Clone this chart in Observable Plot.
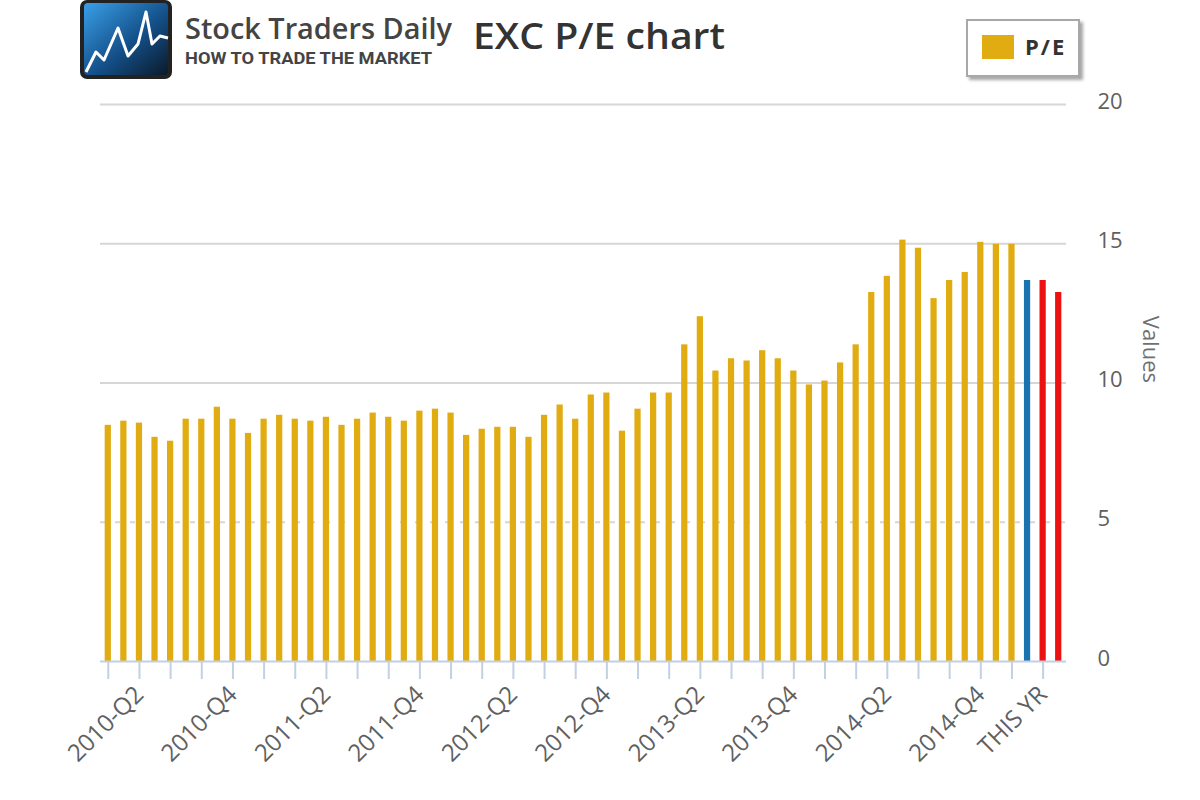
<!DOCTYPE html>
<html>
<head>
<meta charset="utf-8">
<script src="https://cdn.jsdelivr.net/npm/d3@7"></script>
<script src="https://cdn.jsdelivr.net/npm/@observablehq/plot@0.6"></script>
<style>
  html, body { margin: 0; padding: 0; background: #fff; }
  #wrap { position: relative; width: 1200px; height: 800px; overflow: hidden; font-family: "Open Sans", "DejaVu Sans", sans-serif; }
  #chart { position: absolute; left: 0; top: 0; }
  #header { position: absolute; left: 0; top: 0; }
  #legend { position: absolute; left: 966px; top: 19px; width: 114px; height: 58px; background: #fff;
            border: 2px solid #a8a8a8; box-shadow: 3px 3px 3px rgba(0,0,0,0.35); box-sizing: border-box; }
  #legend .sw { position: absolute; left: 14px; top: 14px; width: 32px; height: 24px; background: #e0ac12; }
  #legend .lb { position: absolute; left: 57px; top: 10px; font: bold 22px "Open Sans", "DejaVu Sans", sans-serif; color: #333; letter-spacing: 2px; }
</style>
</head>
<body>
<div id="wrap">
  <div id="chart"></div>
  <svg id="header" width="1200" height="100" xmlns="http://www.w3.org/2000/svg">
    <defs>
      <linearGradient id="lg" x1="0" y1="0" x2="1" y2="1">
        <stop offset="0" stop-color="#3aa0e8"/>
        <stop offset="0.55" stop-color="#14508a"/>
        <stop offset="1" stop-color="#0a1a2a"/>
      </linearGradient>
    </defs>
    <rect x="80" y="0" width="92" height="79" rx="7" fill="#222"/>
    <rect x="84" y="3" width="84" height="72" rx="4" fill="url(#lg)"/>
    <polyline points="86,72 96,52 104,60 118,28 128,56 138,44 146,12 152,44 160,36 168,38"
              fill="none" stroke="#fff" stroke-width="3" stroke-linejoin="round"/>
    <text x="185" y="39" font-family="Open Sans, Roboto, sans-serif" font-weight="600" font-size="29"
          fill="#444" textLength="267" lengthAdjust="spacingAndGlyphs">Stock Traders Daily</text>
    <text x="185" y="64" font-family="Roboto, Open Sans, sans-serif" font-weight="bold" font-size="17"
          fill="#444" textLength="247" lengthAdjust="spacingAndGlyphs">HOW TO TRADE THE MARKET</text>
    <text x="473" y="49" font-family="Open Sans, DejaVu Sans, sans-serif" font-weight="600" font-size="36" fill="#333"
          textLength="252" lengthAdjust="spacingAndGlyphs">EXC P/E chart</text>
  </svg>
  <div id="legend"><div class="sw"></div><div class="lb">P/E</div></div>
</div>
<script>
// Monthly P/E history (gold bars)
const peHistory = [
  8.48, 8.63, 8.56, 8.05, 7.91, 8.70, 8.70, 9.13, 8.70, 8.19,
  8.70, 8.84, 8.70, 8.63, 8.77, 8.48, 8.70, 8.92, 8.77, 8.63,
  8.99, 9.06, 8.92, 8.12, 8.34, 8.41, 8.41, 8.05, 8.84, 9.21,
  8.70, 9.57, 9.64, 8.27, 9.06, 9.64, 9.64, 11.37, 12.38, 10.43,
  10.87, 10.79, 11.16, 10.87, 10.43, 9.93, 10.07, 10.72, 11.37, 13.25,
  13.83, 15.13, 14.84, 13.03, 13.68, 13.97, 15.05, 14.98, 14.98
];
// Current (blue) and forward (red) values
const peThisYear = [13.68];
const peForward = [13.68, 13.25];

// Axis labels and the category index each one sits on
const tickLabels = ["2010-Q2","2010-Q4","2011-Q2","2011-Q4","2012-Q2","2012-Q4","2013-Q2","2013-Q4","2014-Q2","2014-Q4","THIS YR"];
const tickLabelAt = [2, 8, 14, 20, 26, 32, 38, 44, 50, 56, 60];
const yTicks = [0, 5, 10, 15, 20];
const gridSolid = [10, 15, 20];
const gridDashed = [5];

const colorHist = "#e0ac12", colorNow = "#1a73b0", colorFwd = "#ee1111";

const data = [
  ...peHistory.map(v => ({v, c: colorHist})),
  ...peThisYear.map(v => ({v, c: colorNow})),
  ...peForward.map(v => ({v, c: colorFwd}))
].map((d, i) => ({...d, i}));

const idx = data.map(d => d.i);
const tickMarks = idx.filter(i => i % 2 === 0);
const labelMap = new Map(tickLabelAt.map((p, k) => [p, tickLabels[k]]));

const chart = Plot.plot({
  width: 1200,
  height: 800,
  marginLeft: 100,
  marginRight: 134,
  marginTop: 104,
  marginBottom: 139,
  style: { fontFamily: "'Open Sans', 'DejaVu Sans', sans-serif", background: "transparent", overflow: "visible" },
  x: { type: "band", domain: idx, paddingInner: 0.6, paddingOuter: 0.3, axis: null },
  y: { domain: [0, 20], axis: null },
  color: { type: "identity" },
  marks: [
    Plot.ruleY(gridSolid, { stroke: "#d6d6d6", strokeWidth: 2 }),
    Plot.ruleY(gridDashed, { stroke: "#d6d6d6", strokeWidth: 2, strokeDasharray: "5,10" }),
    Plot.barY(data, { x: "i", y: "v", fill: "c" }),
    Plot.ruleY([0], { stroke: "#c4d0e2", strokeWidth: 2 }),
    Plot.axisX(tickMarks, { tickSize: 18, tickFormat: () => "", stroke: "#c4d0e2", strokeWidth: 2, label: null }),
    Plot.axisX(tickLabelAt, {
      tickSize: 0, tickPadding: 29, tickRotate: -45, tickFormat: i => labelMap.get(i),
      fontSize: 24, fill: "#606060", label: null, dx: 0
    }),
    Plot.axisY(yTicks, {
      anchor: "right", tickSize: 0, tickPadding: 31, textAnchor: "start",
      fontSize: 22, fill: "#606060", label: null, dy: -3
    }),
    Plot.text(["Values"], { frameAnchor: "right", dx: 84, rotate: 90, fontSize: 22, fill: "#707070", text: d => d })
  ]
});
document.getElementById("chart").appendChild(chart);
</script>
</body>
</html>
